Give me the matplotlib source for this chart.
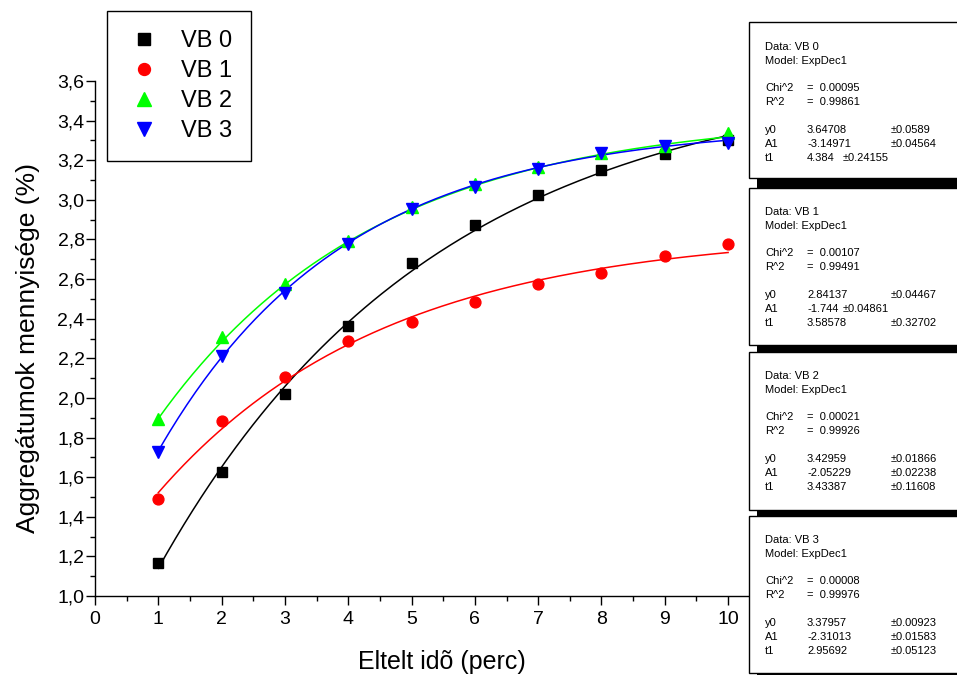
import numpy as np
import matplotlib
matplotlib.use('Agg')
import matplotlib.pyplot as plt
from matplotlib.patches import Rectangle
from matplotlib.ticker import MultipleLocator, FuncFormatter
from matplotlib.lines import Line2D

plt.rcParams['font.family'] = ['Liberation Sans', 'DejaVu Sans']

# ---------------- data ----------------
time_min = [1, 2, 3, 4, 5, 6, 7, 8, 9, 10]
vb0 = [1.168, 1.628, 2.020, 2.364, 2.683, 2.872, 3.024, 3.152, 3.229, 3.300]
vb1 = [1.490, 1.885, 2.108, 2.286, 2.385, 2.486, 2.576, 2.630, 2.714, 2.776]
vb2 = [1.892, 2.310, 2.576, 2.790, 2.963, 3.080, 3.165, 3.236, 3.273, 3.337]
vb3 = [1.729, 2.210, 2.530, 2.778, 2.953, 3.067, 3.155, 3.239, 3.270, 3.286]
series_names = ['VB 0', 'VB 1', 'VB 2', 'VB 3']

# ExpDec1 fit results shown in the boxes: y = y0 + A1*exp(-x/t1)
fit_y0 = ['3.64708', '2.84137', '3.42959', '3.37957']
fit_A1 = ['-3.14971', '-1.744', '-2.05229', '-2.31013']
fit_t1 = ['4.384', '3.58578', '3.43387', '2.95692']
fit_y0_err = ['±0.0589', '±0.04467', '±0.01866', '±0.00923']
fit_A1_err = ['±0.04564', '±0.04861', '±0.02238', '±0.01583']
fit_t1_err = ['±0.24155', '±0.32702', '±0.11608', '±0.05123']
fit_chi2 = ['0.00095', '0.00107', '0.00021', '0.00008']
fit_r2 = ['0.99861', '0.99491', '0.99926', '0.99976']

x_ticks = [0, 1, 2, 3, 4, 5, 6, 7, 8, 9, 10]
y_ticks = [1.0, 1.2, 1.4, 1.6, 1.8, 2.0, 2.2, 2.4, 2.6, 2.8, 3.0, 3.2, 3.4, 3.6]

# ---------------- styles ----------------
colors = ['#000000', '#ff0000', '#00ff00', '#0000ff']
markers = ['s', 'o', '^', 'v']
msizes = [7.2, 7.8, 8.8, 8.8]

W, H = 957, 675
fig = plt.figure(figsize=(W / 100, H / 100), dpi=100)


def fx(px):
    return px / W


def fy(py):
    return 1 - py / H


ax = fig.add_axes([fx(95), fy(596), (749 - 95) / W, (596 - 81) / H])

series = [vb0, vb1, vb2, vb3]
xfit = np.linspace(time_min[0], time_min[-1], 200)
for i, ys in enumerate(series):
    y0, a1, t1 = float(fit_y0[i]), float(fit_A1[i]), float(fit_t1[i])
    ax.plot(xfit, y0 + a1 * np.exp(-xfit / t1), color=colors[i], lw=1.1, zorder=2)
for i, ys in enumerate(series):
    ax.plot(time_min, ys, linestyle='none', marker=markers[i], ms=msizes[i],
            color=colors[i], mec=colors[i], zorder=3)

ax.set_xlim(0, 10.33)
ax.set_ylim(1.0, 3.6)
ax.set_xticks(x_ticks)
ax.set_yticks(y_ticks)
ax.xaxis.set_minor_locator(MultipleLocator(0.5))
ax.yaxis.set_minor_locator(MultipleLocator(0.1))
ax.yaxis.set_major_formatter(FuncFormatter(lambda v, p: f"{v:.1f}".replace('.', ',')))
ax.xaxis.set_major_formatter(FuncFormatter(lambda v, p: f"{v:.0f}"))
ax.tick_params(which='major', direction='out', length=6.5, width=1, labelsize=14)
ax.tick_params(which='minor', direction='out', length=3.5, width=1)
ax.tick_params(axis='y', which='major', pad=1)
ax.tick_params(axis='x', which='major', pad=4)
for s in ['top', 'right']:
    ax.spines[s].set_visible(False)
for s in ['left', 'bottom']:
    ax.spines[s].set_linewidth(1)

fig.text(fx(442), fy(662), 'Eltelt idõ (perc)', fontsize=18, ha='center', va='center')
fig.text(fx(28), fy(348), 'Aggregátumok mennyisége (%)', fontsize=19,
         rotation=90, ha='center', va='center')

handles = [Line2D([], [], linestyle='none', marker=markers[i], ms=msizes[i] * 1.1,
                  color=colors[i]) for i in range(4)]
leg = ax.legend(handles, series_names, loc='upper left',
                bbox_to_anchor=(fx(107), fy(11)), bbox_transform=fig.transFigure,
                fontsize=17, frameon=True, fancybox=False, framealpha=1,
                edgecolor='black', borderpad=0.8, handlelength=1.5,
                handletextpad=0.85, labelspacing=0.34, borderaxespad=0)
leg.get_frame().set_linewidth(1)

# ---------------- fit result boxes ----------------
box_tops = [22, 188, 352, 516]
box_bots = [178, 345, 510, 673]
right = 975
sdx, sdy = 8, 11
for i in reversed(range(4)):
    t, b = box_tops[i], box_bots[i]
    fig.patches.append(Rectangle((fx(749 + sdx), fy(b + sdy)), (right - 749) / W,
                                 (b - t) / H, transform=fig.transFigure,
                                 facecolor='black', edgecolor='none', zorder=5))
    fig.patches.append(Rectangle((fx(749), fy(b)), (right - 749) / W, (b - t) / H,
                                 transform=fig.transFigure, facecolor='white',
                                 edgecolor='black', lw=1, zorder=6))

fs = 8
data_rows = [47, 212, 376, 540]
for i in range(4):
    y = data_rows[i]
    kw = dict(fontsize=fs, va='center', ha='left', zorder=10)
    fig.text(fx(765), fy(y), f'Data: {series_names[i]}', **kw)
    fig.text(fx(765), fy(y + 14), 'Model: ExpDec1', **kw)
    fig.text(fx(765), fy(y + 41), 'Chi^2', **kw)
    fig.text(fx(807), fy(y + 41), f'=  {fit_chi2[i]}', **kw)
    fig.text(fx(765), fy(y + 55), 'R^2', **kw)
    fig.text(fx(807), fy(y + 55), f'=  {fit_r2[i]}', **kw)
    rows = [('y0', fit_y0[i], fit_y0_err[i]),
            ('A1', fit_A1[i], fit_A1_err[i]),
            ('t1', fit_t1[i], fit_t1_err[i])]
    for k, (lab, val, err) in enumerate(rows):
        yy = y + 83 + 14 * k
        fig.text(fx(765), fy(yy), lab, **kw)
        fig.text(fx(807), fy(yy), val, **kw)
        ex = 843 if len(val) <= 6 else 891
        fig.text(fx(ex), fy(yy), err, **kw)

fig.savefig('out.png', dpi=100)
